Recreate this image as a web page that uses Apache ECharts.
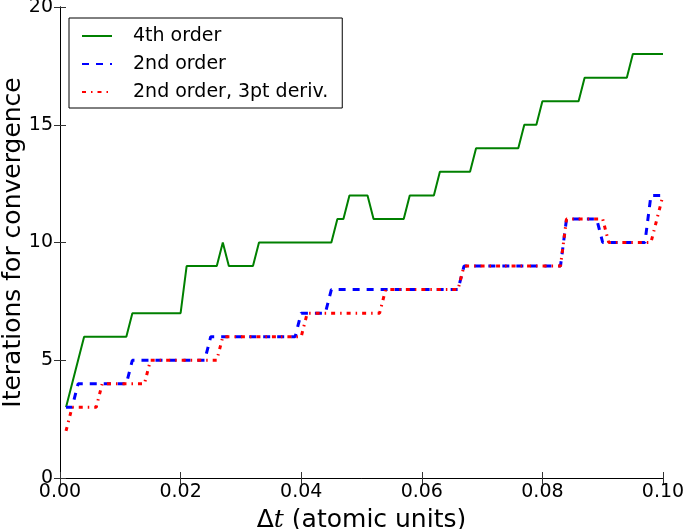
<!DOCTYPE html>
<html>
<head>
<meta charset="utf-8">
<script src="https://cdn.jsdelivr.net/npm/echarts@6/dist/echarts.min.js"></script>
<style>
  html, body { margin: 0; padding: 0; background: #fff; }
  #chart { width: 685px; height: 529px; }
</style>
</head>
<body>
<div id="chart"></div>
<script>
// time step (x), one sample every 0.001
var dt = [
  0.001, 0.002, 0.003, 0.004, 0.005, 0.006, 0.007, 0.008, 0.009, 0.010,
  0.011, 0.012, 0.013, 0.014, 0.015, 0.016, 0.017, 0.018, 0.019, 0.020,
  0.021, 0.022, 0.023, 0.024, 0.025, 0.026, 0.027, 0.028, 0.029, 0.030,
  0.031, 0.032, 0.033, 0.034, 0.035, 0.036, 0.037, 0.038, 0.039, 0.040,
  0.041, 0.042, 0.043, 0.044, 0.045, 0.046, 0.047, 0.048, 0.049, 0.050,
  0.051, 0.052, 0.053, 0.054, 0.055, 0.056, 0.057, 0.058, 0.059, 0.060,
  0.061, 0.062, 0.063, 0.064, 0.065, 0.066, 0.067, 0.068, 0.069, 0.070,
  0.071, 0.072, 0.073, 0.074, 0.075, 0.076, 0.077, 0.078, 0.079, 0.080,
  0.081, 0.082, 0.083, 0.084, 0.085, 0.086, 0.087, 0.088, 0.089, 0.090,
  0.091, 0.092, 0.093, 0.094, 0.095, 0.096, 0.097, 0.098, 0.099, 0.100
];
// iterations for convergence
var order4 = [
  3, 4, 5, 6, 6, 6, 6, 6, 6, 6,
  6, 7, 7, 7, 7, 7, 7, 7, 7, 7,
  9, 9, 9, 9, 9, 9, 10, 9, 9, 9,
  9, 9, 10, 10, 10, 10, 10, 10, 10, 10,
  10, 10, 10, 10, 10, 11, 11, 12, 12, 12,
  12, 11, 11, 11, 11, 11, 11, 12, 12, 12,
  12, 12, 13, 13, 13, 13, 13, 13, 14, 14,
  14, 14, 14, 14, 14, 14, 15, 15, 15, 16,
  16, 16, 16, 16, 16, 16, 17, 17, 17, 17,
  17, 17, 17, 17, 18, 18, 18, 18, 18, 18
];
var order2 = [
  3, 3, 4, 4, 4, 4, 4, 4, 4, 4,
  4, 5, 5, 5, 5, 5, 5, 5, 5, 5,
  5, 5, 5, 5, 6, 6, 6, 6, 6, 6,
  6, 6, 6, 6, 6, 6, 6, 6, 6, 7,
  7, 7, 7, 7, 8, 8, 8, 8, 8, 8,
  8, 8, 8, 8, 8, 8, 8, 8, 8, 8,
  8, 8, 8, 8, 8, 8, 9, 9, 9, 9,
  9, 9, 9, 9, 9, 9, 9, 9, 9, 9,
  9, 9, 9, 11, 11, 11, 11, 11, 11, 10,
  10, 10, 10, 10, 10, 10, 10, 12, 12, 12
];
var order2pt3 = [
  2, 3, 3, 3, 3, 3, 4, 4, 4, 4,
  4, 4, 4, 4, 5, 5, 5, 5, 5, 5,
  5, 5, 5, 5, 5, 5, 6, 6, 6, 6,
  6, 6, 6, 6, 6, 6, 6, 6, 6, 6,
  7, 7, 7, 7, 7, 7, 7, 7, 7, 7,
  7, 7, 7, 8, 8, 8, 8, 8, 8, 8,
  8, 8, 8, 8, 8, 8, 9, 9, 9, 9,
  9, 9, 9, 9, 9, 9, 9, 9, 9, 9,
  9, 9, 9, 11, 11, 11, 11, 11, 11, 11,
  10, 10, 10, 10, 10, 10, 10, 10, 11, 12
];
var xTicks = [0, 0.02, 0.04, 0.06, 0.08, 0.10];
var yTicks = [0, 5, 10, 15, 20];

function pairs(ys) {
  return dt.map(function (x, i) { return [x, ys[i]]; });
}

var chart = echarts.init(document.getElementById('chart'));
var font = 'DejaVu Sans';
var frame = { show: true, lineStyle: { color: '#000', width: 1 } };
var ticksIn = { show: true, inside: true, length: 6, lineStyle: { color: '#333' } };

var option = {
  animation: false,
  textStyle: { fontFamily: font },
  // v6 would shrink the grid to fit labels, keep the box fixed instead
  grid: { left: 60, right: 22, top: 7, bottom: 51, outerBoundsMode: 'none' },
  legend: {
    orient: 'vertical',
    left: 69, top: 18,
    padding: [7, 14, 5, 12],
    itemWidth: 30, itemHeight: 14, itemGap: 6,
    itemStyle: { opacity: 0 },   // line only, no marker
    borderColor: '#000', borderWidth: 1, borderRadius: 0,
    backgroundColor: '#fff',
    textStyle: { fontSize: 19, color: '#000', lineHeight: 22, padding: [0, 0, 0, 16] },
    data: ['4th order', '2nd order', '2nd order, 3pt deriv.']
  },
  xAxis: [{
    type: 'value', min: xTicks[0], max: xTicks[xTicks.length - 1], interval: 0.02,
    axisLine: frame, axisTick: ticksIn, splitLine: { show: false },
    axisLabel: { fontSize: 19, color: '#000', margin: 5, formatter: function (v) { return v.toFixed(2); } },
    name: '{d|Δ}{t|t}{d| (atomic units)}',
    nameLocation: 'middle', nameGap: 30, nameMoveOverlap: false,
    nameTextStyle: {
      rich: {
        d: { fontSize: 25, color: '#000', fontFamily: font },
        t: { fontSize: 25, color: '#000', fontFamily: 'DejaVu Serif', fontStyle: 'italic' }
      }
    }
  }, {
    type: 'value', position: 'top', min: 0, max: 0.1, interval: 0.02,
    axisLine: frame, axisTick: ticksIn, axisLabel: { show: false }, splitLine: { show: false }
  }],
  yAxis: [{
    type: 'value', min: yTicks[0], max: yTicks[yTicks.length - 1], interval: 5,
    axisLine: frame, axisTick: ticksIn, splitLine: { show: false },
    axisLabel: { fontSize: 19, color: '#000', margin: 7 },
    name: 'Iterations for convergence',
    nameLocation: 'middle', nameGap: 34, nameMoveOverlap: false,
    nameTextStyle: { fontSize: 25, color: '#000' }
  }, {
    type: 'value', position: 'right', min: 0, max: 20, interval: 5,
    axisLine: frame, axisTick: ticksIn, axisLabel: { show: false }, splitLine: { show: false }
  }],
  series: [
    {
      name: '4th order', type: 'line', symbol: 'none',
      data: pairs(order4),
      itemStyle: { color: '#008000' },
      lineStyle: { color: '#008000', width: 2 }
    },
    {
      name: '2nd order', type: 'line', symbol: 'none',
      data: pairs(order2),
      itemStyle: { color: '#0000ff' },
      lineStyle: { color: '#0000ff', width: 3, type: [7, 7], cap: 'butt' }
    },
    {
      name: '2nd order, 3pt deriv.', type: 'line', symbol: 'none',
      data: pairs(order2pt3),
      itemStyle: { color: '#ff0000' },
      lineStyle: { color: '#ff0000', width: 3, type: [4, 5, 1.5, 5], cap: 'butt' }
    }
  ]
};
chart.setOption(option);
</script>
</body>
</html>
